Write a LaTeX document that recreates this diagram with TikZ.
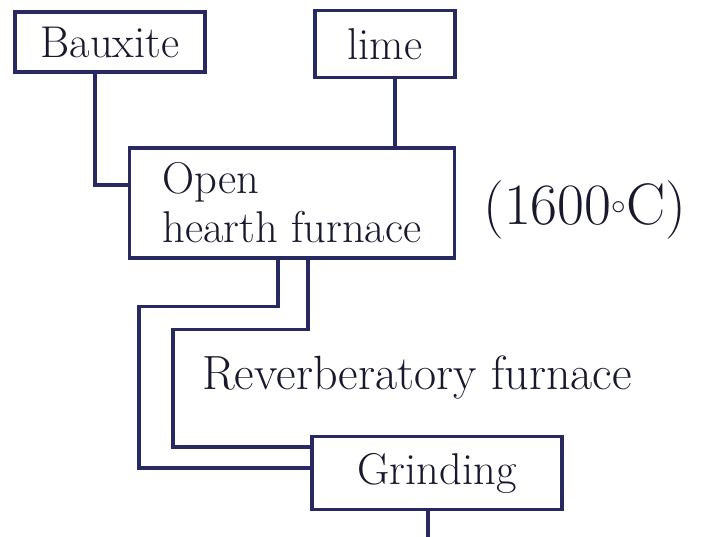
\documentclass[tikz,border=0pt]{standalone}
\usepackage{tikz}
\usetikzlibrary{calc}
\definecolor{inkblue}{rgb}{0.16, 0.16, 0.38}
\definecolor{inktext}{rgb}{0.10, 0.10, 0.18}
\tikzset{box/.style = {draw=inkblue, line width=2.6pt, rectangle, inner sep=0pt,
                       text=inktext, font=\fontsize{38}{42}\selectfont},
         label/.style = {text=inktext, font=\fontsize{41}{45}\selectfont},
         wire/.style = {draw=inkblue, line width=2.6pt}}

\begin{document}
\begin{tikzpicture}[x=0.03cm, y=-0.03cm]
    \useasboundingbox (0, 0) rectangle (706, 537);

    \node [box, minimum width=5.7cm, minimum height=1.8cm] (bauxite) at (110, 42) {Bauxite};
    \node [box, minimum width=4.2cm, minimum height=2.0cm] (lime) at (385, 44) {lime};
    \node [box, minimum width=9.75cm, minimum height=3.3cm, align=left] (hearth) at (292, 203) {Open\\hearth furnace};
    \node [label, font=\fontsize{50}{54}\selectfont] (temp) at (585, 210) {(1600$^\circ$C)};
    \node [label] (rever) at (417, 378) {Reverberatory furnace};
    \node [box, minimum width=7.5cm, minimum height=2.2cm] (grind) at (437, 473) {Grinding};
    \coordinate (out) at (428, 537);

    \draw [wire] ([xshift=-0.45cm]bauxite.south) |- ([yshift=0.54cm]hearth.west);
    \draw [wire] ([xshift=0.3cm]lime.south) -- ([xshift=0.3cm]lime.south |- hearth.north);
    \draw [wire] ([xshift=-0.42cm]hearth.south) -- ++(0, 47) -- ++(-139, 0) |- ([yshift=0.15cm]grind.west);
    \draw [wire] ([xshift=0.48cm]hearth.south) -- ++(0, 70) -- ++(-135, 0) |- ([yshift=0.78cm]grind.west);
    \draw [wire] (grind.south -| out) -- (out);
\end{tikzpicture}
\end{document}
